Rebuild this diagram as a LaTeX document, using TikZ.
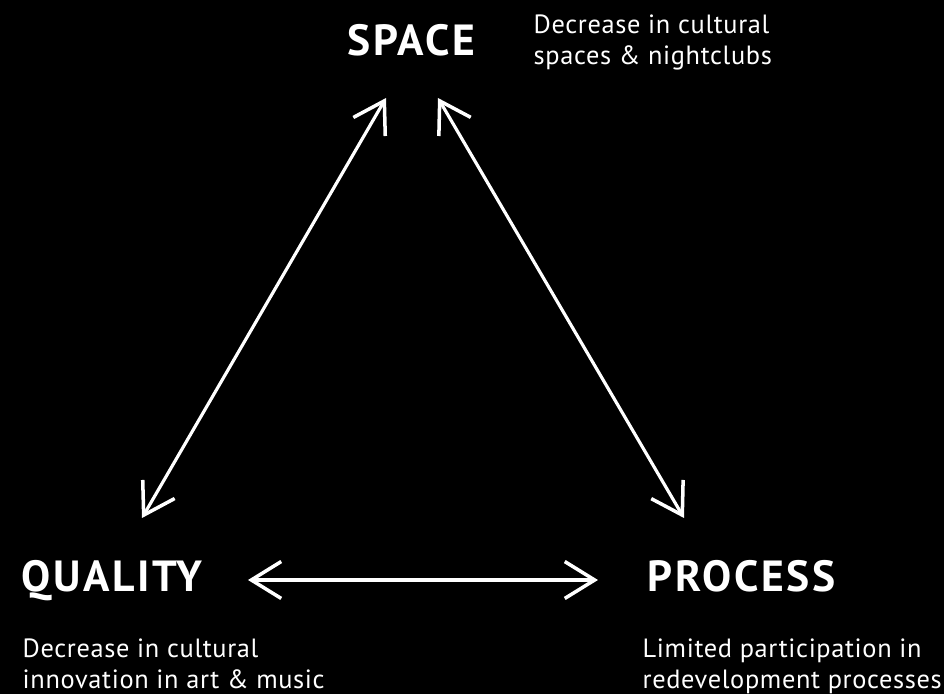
\documentclass[tikz,border=0pt]{standalone}
\usepackage{fontspec}
\setmainfont{PT Sans}
\usepackage{tikz}
\usetikzlibrary{arrows.meta, positioning}

\begin{document}
\begin{tikzpicture}[
  x=0.01cm, y=-0.01cm,
  head/.style = {text=white, font=\fontsize{12.4}{14}\selectfont\bfseries\addfontfeature{LetterSpace=6},
                 inner sep=0pt, anchor=base west},
  desc/.style = {text=white, font=\fontsize{7.5}{8.9}\selectfont\addfontfeature{LetterSpace=2.5},
                 inner sep=0pt, anchor=north west, align=left},
  arr/.style  = {{Straight Barb[length=8.5pt, width=10.5pt, line width=1pt]}-{Straight Barb[length=8.5pt, width=10.5pt, line width=1pt]},
                 draw=white, line width=0.9pt}
]
\fill[black] (0,0) rectangle (944,694);
\useasboundingbox (0,0) rectangle (944,694);

% corner labels
\node[head] (space)   at (347,55)  {SPACE};
\node[head] (quality) at (21,592)  {QUALITY};
\node[head] (process) at (647,592) {PROCESS};

\node[desc] (spacetxt)   at (533,14)  {Decrease in cultural\\spaces \& nightclubs};
\node[desc] (qualitytxt) at (22,638)  {Decrease in cultural\\innovation in art \& music};
\node[desc] (processtxt) at (642,638) {Limited participation in\\redevelopment processes};

% arrow ends
\coordinate (sq) at (386,98);
\coordinate (qs) at (142,518);
\coordinate (sp) at (438,98);
\coordinate (ps) at (684,518);
\coordinate (qp) at (248,580);
\coordinate (pq) at (598,580);

\foreach \a/\b in {sq/qs, sp/ps, qp/pq}
  \draw[arr] (\a) -- (\b);
\end{tikzpicture}
\end{document}
